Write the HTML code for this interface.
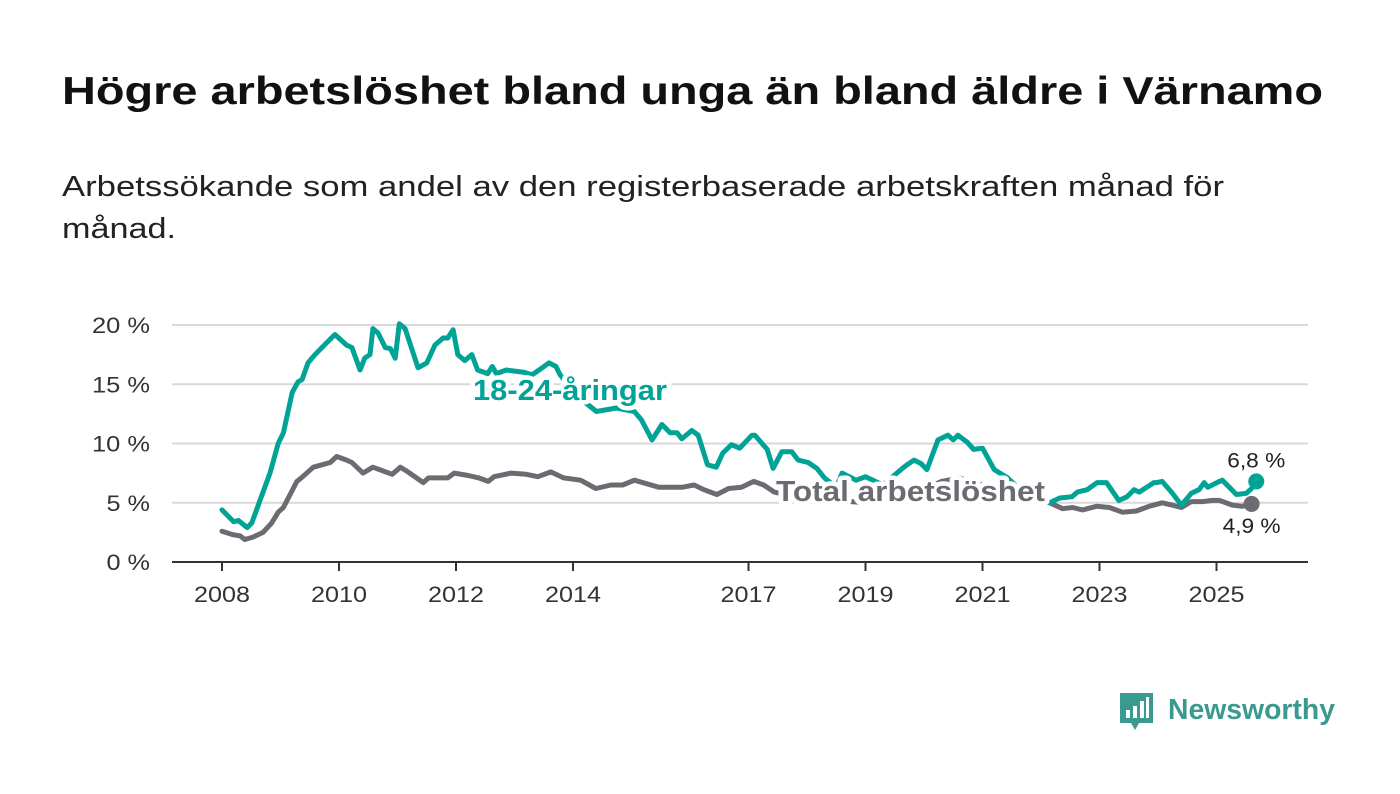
<!DOCTYPE html>
<html><head><meta charset="utf-8"><style>
body{margin:0;background:#fff;}
svg{display:block;font-family:"Liberation Sans",sans-serif;}
</style></head><body>
<svg id="chart" width="1400" height="794" viewBox="0 0 1400 794">
<text x="62" y="104" font-size="39" font-weight="bold" fill="#111" textLength="1261" lengthAdjust="spacingAndGlyphs">Högre arbetslöshet bland unga än bland äldre i Värnamo</text>
<text x="62" y="196" font-size="29" fill="#222" textLength="1162" lengthAdjust="spacingAndGlyphs">Arbetssökande som andel av den registerbaserade arbetskraften månad för</text>
<text x="62" y="238" font-size="29" fill="#222" textLength="114" lengthAdjust="spacingAndGlyphs">månad.</text>
<g id="grid"></g>
<g id="yaxis"></g>
<g id="xaxis"></g>
<g id="series"></g>
<g>
<path d="M1120 693 h33 v30 h-14 l-4 7 l-4 -7 h-11 z" fill="#3a9a90"/>
<rect x="1126" y="710" width="4" height="8" fill="#fff"/><rect x="1133" y="706" width="4" height="12" fill="#fff"/><rect x="1140" y="701" width="4" height="17" fill="#fff"/><rect x="1146" y="697" width="3" height="21" fill="#fff"/>
<text x="1168" y="719" font-size="29" font-weight="bold" fill="#3a9a90" textLength="167" lengthAdjust="spacingAndGlyphs">Newsworthy</text>
</g>
</svg>
<script>
const yTicks=[0,5,10,15,20];
const yTickLabels=["0 %","5 %","10 %","15 %","20 %"];
const xTicks=[2008,2010,2012,2014,2017,2019,2021,2023,2025];
const youthT=[2008.0,2008.2,2008.28,2008.43,2008.51,2008.65,2008.82,2008.96,2009.05,2009.2,2009.3,2009.37,2009.47,2009.59,2009.73,2009.93,2010.13,2010.22,2010.36,2010.44,2010.53,2010.58,2010.67,2010.79,2010.88,2010.96,2011.03,2011.13,2011.35,2011.5,2011.64,2011.78,2011.86,2011.95,2012.03,2012.15,2012.27,2012.37,2012.54,2012.62,2012.69,2012.86,2013.17,2013.3,2013.42,2013.59,2013.71,2013.78,2014.0,2014.2,2014.4,2014.74,2015.05,2015.17,2015.35,2015.52,2015.66,2015.78,2015.86,2016.03,2016.14,2016.3,2016.45,2016.56,2016.71,2016.85,2017.06,2017.11,2017.32,2017.42,2017.57,2017.74,2017.85,2018.02,2018.17,2018.3,2018.5,2018.6,2018.84,2019.0,2019.3,2019.63,2019.71,2019.83,2019.95,2020.05,2020.24,2020.41,2020.5,2020.58,2020.74,2020.85,2021.0,2021.2,2021.43,2021.7,2022.15,2022.32,2022.53,2022.62,2022.79,2022.96,2023.12,2023.33,2023.47,2023.59,2023.68,2023.93,2023.98,2024.07,2024.23,2024.4,2024.57,2024.7,2024.79,2024.85,2025.05,2025.1,2025.22,2025.34,2025.51,2025.6,2025.68];
const youthV=[4.4,3.4,3.5,2.9,3.3,5.2,7.5,10,10.9,14.3,15.2,15.4,16.8,17.5,18.2,19.2,18.3,18.1,16.2,17.2,17.5,19.7,19.3,18.1,18,17.2,20.1,19.7,16.4,16.8,18.3,18.9,18.9,19.6,17.5,17,17.5,16.2,15.9,16.5,15.9,16.2,16,15.8,16.2,16.8,16.5,15.8,14.5,13.5,12.7,13,12.7,12,10.3,11.6,10.9,10.9,10.4,11.1,10.7,8.2,8,9.2,9.9,9.6,10.7,10.7,9.5,7.9,9.3,9.3,8.6,8.4,7.9,7.1,6.3,7.5,6.9,7.2,6.5,7.9,8.2,8.6,8.3,7.8,10.3,10.7,10.3,10.7,10.1,9.5,9.6,7.8,7.1,5.8,5.0,5.4,5.5,5.9,6.1,6.7,6.7,5.2,5.5,6.1,5.9,6.7,6.7,6.8,5.9,4.8,5.8,6.1,6.7,6.3,6.8,6.9,6.3,5.7,5.8,6.2,6.8];
const totalT=[2008.0,2008.19,2008.31,2008.39,2008.53,2008.7,2008.85,2008.96,2009.05,2009.28,2009.38,2009.56,2009.71,2009.85,2009.96,2010.13,2010.22,2010.41,2010.58,2010.91,2011.05,2011.18,2011.44,2011.53,2011.86,2011.97,2012.21,2012.39,2012.55,2012.65,2012.94,2013.2,2013.4,2013.62,2013.84,2014.13,2014.39,2014.65,2014.85,2015.05,2015.47,2015.66,2015.86,2016.07,2016.24,2016.46,2016.66,2016.88,2017.09,2017.26,2017.44,2017.7,2018.0,2018.5,2019.0,2019.5,2019.9,2020.3,2020.6,2021.0,2021.5,2022.15,2022.37,2022.54,2022.71,2022.95,2023.17,2023.39,2023.63,2023.85,2024.07,2024.24,2024.4,2024.57,2024.76,2024.93,2025.05,2025.27,2025.44,2025.6];
const totalV=[2.6,2.3,2.2,1.9,2.1,2.5,3.3,4.2,4.6,6.8,7.2,8.0,8.2,8.4,8.9,8.6,8.4,7.5,8.0,7.4,8.0,7.6,6.7,7.1,7.1,7.5,7.3,7.1,6.8,7.2,7.5,7.4,7.2,7.6,7.1,6.9,6.2,6.5,6.5,6.9,6.3,6.3,6.3,6.5,6.1,5.7,6.2,6.3,6.8,6.5,5.9,5.6,5.5,5.2,5.0,5.3,5.9,6.8,7.1,6.5,5.8,5.0,4.5,4.6,4.4,4.7,4.6,4.2,4.3,4.7,5.0,4.8,4.6,5.1,5.1,5.2,5.2,4.8,4.7,4.9];
const NS="http://www.w3.org/2000/svg";
const X0=172,X1=1308,Y0=562;
function x(t){return 222+(t-2008)*58.5;}
function y(v){return Y0-v*11.85;}
function mk(tag,attrs,parent){const e=document.createElementNS(NS,tag);for(const k in attrs)e.setAttribute(k,attrs[k]);parent.appendChild(e);return e;}
const grid=document.getElementById('grid'),ya=document.getElementById('yaxis'),xa=document.getElementById('xaxis'),ser=document.getElementById('series');
yTicks.forEach((v,i)=>{
 if(v>0){const g=mk('line',{x1:X0,x2:X1,y1:y(v),y2:y(v),stroke:'#d9d9d9','stroke-width':2},grid);
 
 }
 const lab=yTickLabels[i];
 const t=mk('text',{x:150,y:y(v)+8,'text-anchor':'end','font-size':22,fill:'#333',textLength:lab.length*14.5,lengthAdjust:'spacingAndGlyphs'},ya);
 
 
 t.textContent=lab;
});
const base=mk('line',{x1:X0,x2:X1,y1:Y0,y2:Y0,stroke:'#333','stroke-width':2},xa);


xTicks.forEach(t=>{
 const l=mk('line',{x1:x(t),x2:x(t),y1:Y0,y2:Y0+9,stroke:'#333','stroke-width':2},xa);
 
 
 const tx=mk('text',{x:x(t),y:602,'text-anchor':'middle','font-size':22,fill:'#333',textLength:56,lengthAdjust:'spacingAndGlyphs'},xa);
 
 
 tx.textContent=t;
});
function line(T,V,color,name){
 const d=T.map((t,i)=>(i?'L':'M')+x(t).toFixed(1)+' '+y(V[i]).toFixed(1)).join(' ');
 const p=mk('path',{d:d,fill:'none',stroke:color,'stroke-width':5,'stroke-linejoin':'round','stroke-linecap':'round'},ser);
 
 
 const n=T.length-1;
 const c=mk('circle',{cx:x(T[n]),cy:y(V[n]),r:8,fill:color},ser);
 
 
}
line(totalT,totalV,'#6d6b72','total-line');
line(youthT,youthV,'#00a396','youth-line');
function label(txt,xx,yy,color,name,size,bold,anchor,len){
 const t=mk('text',{x:xx,y:yy,'font-size':size,'font-weight':bold?'bold':'normal',fill:color,stroke:'#fff','stroke-width':bold?9:5,'paint-order':'stroke','stroke-linejoin':'round','text-anchor':anchor||'start',textLength:len,lengthAdjust:'spacingAndGlyphs'},ser);
 
 
 t.textContent=txt;
}
label('18-24-åringar',473,400,'#00a396','youth-series-label',29,true,'start',194);
label('Total arbetslöshet',776,501,'#6d6b72','total-series-label',29,true,'start',269);
const ny=youthT.length-1, nt=totalT.length-1;
label(youthV[ny].toFixed(1).replace('.',',')+' %',x(youthT[ny]),y(youthV[ny])-14,'#222','youth-end-value',21,false,'middle',58);
label(totalV[nt].toFixed(1).replace('.',',')+' %',x(totalT[nt]),y(totalV[nt])+29,'#222','total-end-value',21,false,'middle',58);
</script>
</body></html>
